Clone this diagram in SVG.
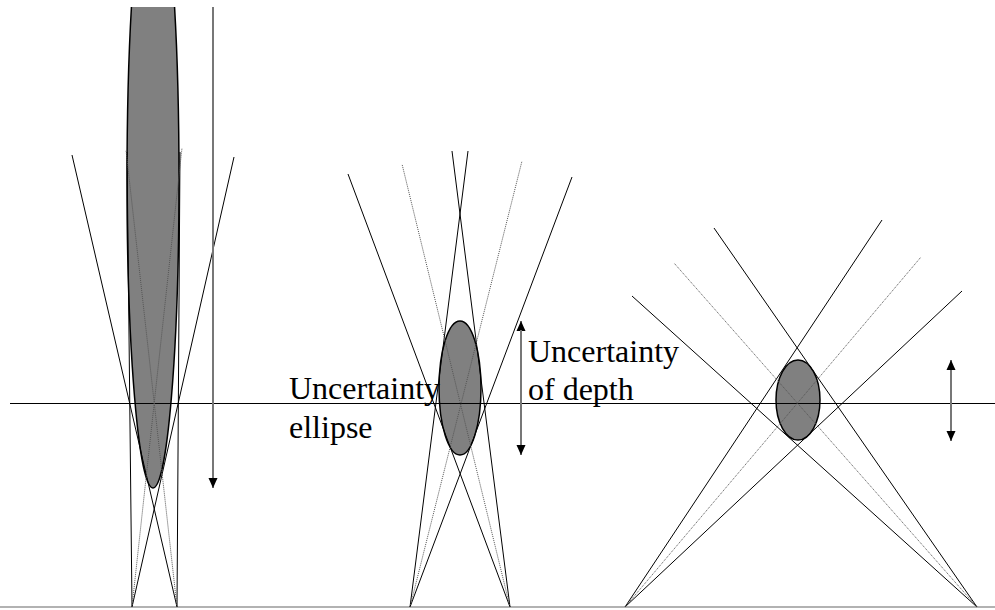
<svg xmlns="http://www.w3.org/2000/svg" width="995" height="610" viewBox="0 0 995 610">
<style>
.ell{fill:#808080;stroke:#000;stroke-width:1.5}
.ray{stroke:#000;stroke-width:1;fill:none}
.dot{stroke:#555;stroke-width:1;stroke-dasharray:1,1;fill:none}
.base{stroke:#000;stroke-width:1.2}
.ground{stroke:#999;stroke-width:1.5}
.arr{stroke:#777;stroke-width:2}
.lbl{font-size:32px;fill:#000}
</style>
<defs>
<marker id="ah" viewBox="0 0 10 10" refX="10" refY="5" markerWidth="10" markerHeight="10" markerUnits="userSpaceOnUse" orient="auto">
<path d="M0,0.5 L10,5 L0,9.5 Z" fill="#000"/>
</marker>
<clipPath id="topclip"><rect x="0" y="7" width="995" height="603"/></clipPath>
</defs>
<rect x="0" y="0" width="995" height="610" fill="#fff"/>
<g id="ellipse-left" clip-path="url(#topclip)"><ellipse class="ell" cx="153" cy="180" rx="26" ry="308"/></g>
<g id="ellipse-middle"><ellipse class="ell" cx="460" cy="388" rx="21" ry="67"/></g>
<g id="ellipse-right"><ellipse class="ell" cx="798" cy="400" rx="22" ry="40"/></g>
<g id="connectors">
<line class="base" x1="10" y1="403.5" x2="995" y2="403.5"/>
<line class="ground" x1="0" y1="607" x2="995" y2="607"/>
<line class="ray" x1="132" y1="607" x2="234" y2="157"/>
<line class="ray" x1="177" y1="607" x2="72" y2="155"/>
<line class="ray" x1="132" y1="607" x2="127" y2="152"/>
<line class="ray" x1="177" y1="607" x2="180" y2="152"/>
<line class="dot" x1="132" y1="607" x2="182" y2="148"/>
<line class="dot" x1="177" y1="607" x2="126" y2="150"/>
<line class="ray" x1="410" y1="607" x2="572" y2="177"/>
<line class="ray" x1="510" y1="607" x2="348" y2="174"/>
<line class="ray" x1="410" y1="607" x2="468" y2="151"/>
<line class="ray" x1="510" y1="607" x2="452" y2="151"/>
<line class="dot" x1="410" y1="607" x2="522" y2="161"/>
<line class="dot" x1="510" y1="607" x2="402" y2="164"/>
<line class="ray" x1="625" y1="607" x2="882" y2="220"/>
<line class="ray" x1="625" y1="607" x2="962" y2="291"/>
<line class="ray" x1="977" y1="607" x2="714" y2="228"/>
<line class="ray" x1="977" y1="607" x2="632" y2="296"/>
<line class="dot" x1="625" y1="607" x2="921" y2="257"/>
<line class="dot" x1="977" y1="607" x2="674" y2="263"/>
<line class="arr" x1="213" y1="7" x2="213" y2="488" marker-end="url(#ah)"/>
<line class="arr" x1="521" y1="455" x2="521" y2="321" marker-end="url(#ah)"/>
<line class="arr" x1="521" y1="330" x2="521" y2="455" marker-end="url(#ah)"/>
<line class="arr" x1="951" y1="440" x2="951" y2="360" marker-end="url(#ah)"/>
<line class="arr" x1="951" y1="370" x2="951" y2="441" marker-end="url(#ah)"/>
</g>
<g id="label-ellipse" font-family="Liberation Serif, Times New Roman, serif"><text class="lbl" x="289" y="399">Uncertainty</text><text class="lbl" x="289" y="438">ellipse</text></g>
<g id="label-depth" font-family="Liberation Serif, Times New Roman, serif"><text class="lbl" x="528" y="362">Uncertainty</text><text class="lbl" x="528" y="400">of depth</text></g>
</svg>
